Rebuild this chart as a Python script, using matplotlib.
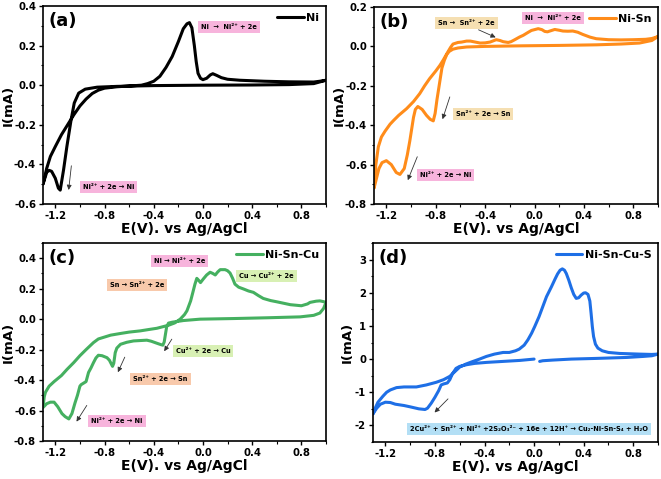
import numpy as np
import matplotlib
matplotlib.use("Agg")
import matplotlib.pyplot as plt
from matplotlib.ticker import MultipleLocator

plt.rcParams['font.family'] = ['DejaVu Sans']
plt.rcParams['font.weight'] = 'bold'
plt.rcParams['axes.labelweight'] = 'bold'

# ---------------- data ----------------
ni_E = [1.0, 0.9, 0.7, 0.4, 0.0, -0.4, -0.7, -0.86, -0.957, -1.01, -1.046, -1.073, -1.106, -1.133, -1.16,
        -1.175, -1.2, -1.23, -1.25, -1.27, -1.285, -1.3,
        -1.27, -1.24, -1.2, -1.15, -1.1, -1.05, -1.0, -0.95, -0.9, -0.85, -0.8, -0.7, -0.6, -0.5, -0.45,
        -0.4, -0.35, -0.3, -0.25, -0.2, -0.16, -0.13, -0.11, -0.09, -0.07, -0.055, -0.04, -0.02, 0.0,
        0.03, 0.06, 0.08, 0.11, 0.15, 0.2, 0.3, 0.5, 0.7, 0.9, 0.95, 1.0]
ni_I = [0.025, 0.008, 0.003, 0.001, 0.0, -0.002, -0.006, -0.01, -0.02, -0.04, -0.09, -0.18, -0.31, -0.428, -0.53,
        -0.52, -0.47, -0.435, -0.43, -0.44, -0.47, -0.5,
        -0.42, -0.36, -0.31, -0.25, -0.2, -0.15, -0.105, -0.07, -0.042, -0.025, -0.015, -0.008, -0.004, 0.0, 0.008,
        0.02, 0.045, 0.09, 0.145, 0.22, 0.285, 0.31, 0.316, 0.29, 0.2, 0.12, 0.06, 0.035, 0.028,
        0.035, 0.052, 0.058, 0.05, 0.038, 0.03, 0.025, 0.02, 0.017, 0.016, 0.02, 0.025]

nisn_E = [1.0, 0.95, 0.85, 0.7, 0.5, 0.2, -0.1, -0.4, -0.55, -0.62, -0.66, -0.69, -0.71, -0.73, -0.75, -0.77,
          -0.79, -0.805, -0.82, -0.845, -0.875, -0.91, -0.945, -0.965, -0.98, -0.995, -1.01, -1.03, -1.055,
          -1.09, -1.12, -1.16, -1.2, -1.235, -1.26, -1.28, -1.3,
          -1.285, -1.265, -1.24, -1.21, -1.17, -1.14, -1.1, -1.036, -0.98, -0.93, -0.89, -0.85, -0.8, -0.766,
          -0.74, -0.71, -0.68, -0.66, -0.62, -0.59, -0.55, -0.52, -0.48, -0.44, -0.4, -0.36, -0.31, -0.28,
          -0.254, -0.213, -0.19, -0.16, -0.12, -0.092, -0.05, -0.025, 0.03, 0.06, 0.083, 0.105, 0.124, 0.164,
          0.2, 0.23, 0.27, 0.31, 0.35, 0.39, 0.45, 0.5, 0.6, 0.7, 0.8, 0.9, 0.95, 1.0]
nisn_I = [0.05, 0.03, 0.017, 0.012, 0.008, 0.005, 0.003, 0.0, -0.003, -0.008, -0.014, -0.025, -0.04, -0.07,
          -0.11, -0.19, -0.27, -0.34, -0.378, -0.37, -0.35, -0.32, -0.305, -0.32, -0.36, -0.42, -0.48, -0.55,
          -0.62, -0.65, -0.64, -0.6, -0.58, -0.59, -0.62, -0.67, -0.72,
          -0.6, -0.51, -0.46, -0.43, -0.395, -0.375, -0.35, -0.316, -0.28, -0.24, -0.2, -0.164, -0.125, -0.096,
          -0.07, -0.037, -0.005, 0.012, 0.02, 0.022, 0.027, 0.027, 0.022, 0.017, 0.018, 0.022, 0.034, 0.03,
          0.024, 0.02, 0.024, 0.034, 0.048, 0.056, 0.072, 0.081, 0.09, 0.085, 0.076, 0.074, 0.078, 0.086,
          0.082, 0.078, 0.077, 0.078, 0.072, 0.061, 0.047, 0.039, 0.034, 0.033, 0.034, 0.036, 0.04, 0.05]

nisncu_E = [1.0, 0.98, 0.95, 0.9, 0.79, 0.52, 0.25, -0.023, -0.158, -0.25, -0.28, -0.295, -0.305, -0.315,
            -0.326, -0.35, -0.375, -0.42, -0.456, -0.5, -0.564, -0.62, -0.67, -0.7, -0.713, -0.725, -0.735,
            -0.76, -0.78, -0.82, -0.85, -0.87, -0.89, -0.91, -0.93, -0.95, -0.97, -0.99, -1.0, -1.02, -1.04,
            -1.065, -1.09, -1.12, -1.146, -1.18, -1.21, -1.24, -1.27, -1.3,
            -1.29, -1.28, -1.25, -1.21, -1.15, -1.105, -1.05, -1.0, -0.95, -0.89, -0.85, -0.81, -0.75, -0.67,
            -0.6, -0.51, -0.44, -0.375, -0.28, -0.23, -0.185, -0.15, -0.13, -0.1, -0.082, -0.065, -0.05,
            -0.035, -0.02, 0.004, 0.03, 0.058, 0.08, 0.1, 0.12, 0.14, 0.18, 0.2, 0.22, 0.24, 0.26, 0.29, 0.33,
            0.37, 0.41, 0.45, 0.49, 0.55, 0.6, 0.71, 0.8, 0.85, 0.87, 0.92, 0.95, 0.98, 1.0]
nisncu_I = [0.11, 0.07, 0.04, 0.025, 0.015, 0.009, 0.004, 0.0, -0.009, -0.02, -0.026, -0.05, -0.1, -0.15,
            -0.171, -0.165, -0.158, -0.145, -0.138, -0.14, -0.143, -0.152, -0.165, -0.19, -0.22, -0.29, -0.31,
            -0.27, -0.253, -0.24, -0.237, -0.255, -0.286, -0.32, -0.35, -0.41, -0.42, -0.43, -0.44, -0.5, -0.55,
            -0.62, -0.655, -0.64, -0.62, -0.575, -0.545, -0.545, -0.555, -0.58,
            -0.51, -0.48, -0.44, -0.41, -0.37, -0.33, -0.285, -0.24, -0.2, -0.154, -0.13, -0.12, -0.105, -0.094,
            -0.085, -0.077, -0.068, -0.06, -0.04, -0.025, 0.0, 0.03, 0.055, 0.12, 0.176, 0.23, 0.268,
            0.255, 0.24, 0.265, 0.29, 0.308, 0.3, 0.29, 0.31, 0.325, 0.325, 0.318, 0.303, 0.27, 0.23, 0.21, 0.198,
            0.185, 0.176, 0.155, 0.136, 0.122, 0.114, 0.095, 0.088, 0.1, 0.11, 0.118, 0.12, 0.115, 0.11]

nisncus_E = [-1.3, -1.285, -1.26, -1.22, -1.19, -1.16, -1.11, -1.05, -0.95, -0.87, -0.79, -0.73, -0.68,
             -0.64, -0.6, -0.55, -0.5, -0.44, -0.385, -0.32, -0.25, -0.2, -0.15, -0.12, -0.08, -0.05, -0.02,
             0.005, 0.04, 0.07, 0.1, 0.14, 0.17, 0.19, 0.21, 0.228, 0.245, 0.26, 0.28, 0.3, 0.32, 0.34, 0.36,
             0.38, 0.4, 0.415, 0.435, 0.45, 0.46, 0.47, 0.48, 0.495, 0.515, 0.55, 0.6, 0.69, 0.85, 0.95, 1.0,
             0.95, 0.88, 0.75, 0.5, 0.3, 0.15, 0.07, 0.045, np.nan,
             0.0, -0.114, -0.25, -0.385, -0.48, -0.545, -0.6, -0.63, -0.66, -0.68, -0.7, -0.73, -0.75, -0.77,
             -0.8, -0.83, -0.86, -0.88, -0.93, -1.0, -1.05, -1.12, -1.16, -1.2, -1.24, -1.27, -1.3]
nisncus_I = [-1.65, -1.5, -1.3, -1.12, -1.0, -0.93, -0.86, -0.84, -0.84, -0.78, -0.7, -0.62, -0.52,
             -0.38, -0.24, -0.15, -0.08, 0.0, 0.08, 0.15, 0.2, 0.2, 0.25, 0.3, 0.42, 0.58, 0.78,
             0.98, 1.28, 1.58, 1.88, 2.18, 2.42, 2.57, 2.68, 2.72, 2.68, 2.58, 2.38, 2.15, 1.95, 1.83, 1.85,
             1.93, 1.99, 2.0, 1.95, 1.75, 1.38, 0.98, 0.68, 0.45, 0.33, 0.25, 0.2, 0.17, 0.15, 0.14, 0.15,
             0.1, 0.08, 0.05, 0.02, 0.0, -0.03, -0.05, -0.07, np.nan,
             0.0, -0.04, -0.07, -0.1, -0.13, -0.17, -0.22, -0.28, -0.45, -0.62, -0.72, -0.75, -0.78, -0.95,
             -1.15, -1.33, -1.48, -1.52, -1.5, -1.44, -1.4, -1.36, -1.31, -1.3, -1.36, -1.48, -1.65]

x_ticks = [-1.2, -0.8, -0.4, 0.0, 0.4, 0.8]
series_names = ["Ni", "Ni-Sn", "Ni-Sn-Cu", "Ni-Sn-Cu-S"]
panel_tags = ["(a)", "(b)", "(c)", "(d)"]

# ---------------- figure ----------------
fig = plt.figure(figsize=(6.61, 4.79), dpi=100)
W, H = 661.0, 479.0

def mk(l, r, t, b):
    return fig.add_axes([l / W, 1 - b / H, (r - l) / W, (b - t) / H])

axes = [mk(43, 326, 6, 204), mk(374, 658, 7, 204), mk(43, 326, 243, 441), mk(373, 658, 243, 442)]
colors = ["black", "#ff8c1a", "#45b060", "#1e6fe6"]
curves = [(ni_E, ni_I), (nisn_E, nisn_I), (nisncu_E, nisncu_I), (nisncus_E, nisncus_I)]
ylims = [(-0.6, 0.4), (-0.8, 0.2), (-0.8, 0.5), (-2.5, 3.5)]
ymaj = [0.2, 0.2, 0.2, 1.0]
ymin = [0.1, 0.1, 0.1, 0.5]
ylab_x = [-0.1, -0.1, -0.1, -0.068]

fmt1 = plt.FuncFormatter(lambda v, p: f"{v:.1f}" if abs(v) > 1e-9 else "0.0")

for i, ax in enumerate(axes):
    E, I = curves[i]
    ax.plot(E, I, color=colors[i], lw=2.2, label=series_names[i], solid_capstyle='round')
    ax.set_xlim(-1.3, 1.0)
    ax.set_ylim(*ylims[i])
    ax.set_xticks(x_ticks)
    ax.xaxis.set_minor_locator(MultipleLocator(0.2))
    ax.yaxis.set_major_locator(MultipleLocator(ymaj[i]))
    ax.yaxis.set_minor_locator(MultipleLocator(ymin[i]))
    if i == 3:
        ax.set_yticks([-2, -1, 0, 1, 2, 3])
        ax.set_yticklabels(["-2", "-1", "0", "1", "2", "3"])
    else:
        ax.yaxis.set_major_formatter(fmt1)
    ax.xaxis.set_major_formatter(fmt1)
    ax.tick_params(which='major', direction='out', length=3, width=1.0, labelsize=7.3, pad=2)
    ax.tick_params(which='minor', direction='out', length=1.8, width=0.8)
    for s in ax.spines.values():
        s.set_linewidth(1.2)
    ax.set_xlabel("E(V). vs Ag/AgCl", fontsize=10, labelpad=1)
    ax.set_ylabel("I(mA)", fontsize=9.5)
    ax.yaxis.set_label_coords(ylab_x[i], 0.5)
    ax.text(0.02, 0.97, panel_tags[i], transform=ax.transAxes, fontsize=13, fontweight='bold',
            va='top', ha='left')
    ax.legend(loc='upper right', frameon=False, fontsize=8, handlelength=2.4,
              borderaxespad=0.2, handletextpad=0.2)

PINK = "#f7b4dc"
TAN = "#f5dfb2"
PEACH = "#f8c9ab"
LGREEN = "#d8f0b4"
LBLUE = "#b3dff5"

def box(ax, x, y, s, c, fs=4.8):
    ax.text(x, y, s, ha='center', va='center', fontsize=fs, fontweight='bold',
            bbox=dict(boxstyle='square,pad=0.45', fc=c, ec='none'))

def arr(ax, x0, y0, x1, y1):
    ax.annotate('', xy=(x1, y1), xytext=(x0, y0),
                arrowprops=dict(arrowstyle='-|>', color='#333333', lw=0.6, mutation_scale=7))

a, b, c, d = axes
box(a, 0.212, 0.294, "Ni  →  Ni²⁺ + 2e", PINK)
box(a, -0.767, -0.512, "Ni²⁺ + 2e → Ni", PINK)
arr(a, -1.067, -0.393, -1.094, -0.543)

box(b, 0.152, 0.143, "Ni  →  Ni²⁺ + 2e", PINK)
box(b, -0.553, 0.121, "Sn →  Sn²⁺ + 2e", TAN)
arr(b, -0.474, 0.09, -0.294, 0.04)
box(b, -0.415, -0.343, "Sn²⁺ + 2e → Sn", TAN)
arr(b, -0.679, -0.243, -0.752, -0.383)
box(b, -0.719, -0.653, "Ni²⁺ + 2e → Ni", PINK)
arr(b, -0.941, -0.547, -1.035, -0.692)

box(c, -0.189, 0.385, "Ni → Ni²⁺ + 2e", PINK)
box(c, -0.538, 0.223, "Sn → Sn²⁺ + 2e", PEACH)
box(c, 0.515, 0.283, "Cu → Cu²⁺ + 2e", LGREEN)
box(c, 0.0, -0.211, "Cu²⁺ + 2e → Cu", LGREEN)
arr(c, -0.241, -0.116, -0.327, -0.226)
box(c, -0.345, -0.392, "Sn²⁺ + 2e → Sn", PEACH)
arr(c, -0.626, -0.233, -0.701, -0.365)
box(c, -0.698, -0.67, "Ni²⁺ + 2e → Ni", PINK)
arr(c, -0.932, -0.551, -1.04, -0.688)

box(d, -0.039, -2.12, "2Cu²⁺ + Sn²⁺ + Ni²⁺ +2S₂O₃²⁻ + 16e + 12H⁺ → Cu₂-Ni-Sn-S₄ + H₂O", LBLUE, fs=4.8)
arr(d, -0.679, -1.14, -0.819, -1.67)

fig.savefig("out.png", dpi=100)
